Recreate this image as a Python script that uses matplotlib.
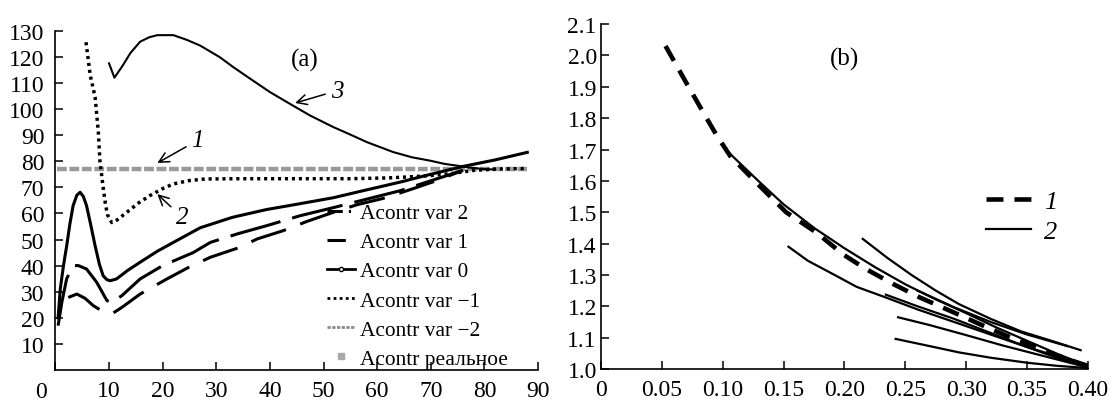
import matplotlib
matplotlib.use("Agg")
import matplotlib.pyplot as plt
from matplotlib.lines import Line2D

plt.rcParams['font.family'] = 'serif'
plt.rcParams['font.serif'] = ['Liberation Serif', 'DejaVu Serif']

# ---- panel (a): Acontr vs time ----
x_var2 = [2.4, 4.0, 5.5, 7.1, 8.8, 10.5, 12.4, 15.8, 20.8, 25.0, 28.9, 34.4, 37.6, 42.5, 47.0, 51.8, 56.2, 61.2, 66.0, 71.0, 76.0]
y_var2 = [27.8, 29.1, 27.5, 24.6, 22.5, 21.5, 24.0, 29.1, 34.9, 39.5, 43.2, 47.0, 50.2, 53.4, 57.0, 60.4, 63.3, 65.8, 69.0, 72.5, 76.5]

x_var1 = [0.5, 1.2, 2.1, 3.3, 4.3, 5.8, 7.7, 9.6, 10.5, 12.4, 15.8, 20.0, 25.7, 28.9, 34.0, 39.4, 45.6, 52.0, 58.1, 64.3, 70.0, 76.0]
y_var1 = [17.0, 26.0, 35.0, 40.0, 40.0, 38.7, 33.6, 26.6, 25.9, 28.5, 34.9, 40.0, 45.0, 48.9, 52.2, 55.3, 59.1, 62.3, 65.5, 68.7, 72.5, 76.5]

x_var0 = [0.5, 0.9, 1.5, 2.1, 2.7, 3.3, 4.0, 4.6, 5.2, 5.8, 6.6, 7.4, 8.2, 8.9, 9.6, 10.2, 11.4, 13.5, 15.8, 19.0, 22.0, 27.0, 33.0, 39.4, 45.0, 51.8, 58.0, 64.3, 70.0, 76.0, 82.0, 88.0]
y_var0 = [20.0, 31.0, 40.0, 47.6, 56.0, 63.0, 67.0, 68.1, 66.5, 63.0, 55.5, 47.6, 40.5, 36.1, 34.6, 34.2, 34.9, 38.2, 41.3, 45.5, 48.9, 54.5, 58.5, 61.5, 63.5, 66.0, 69.0, 72.0, 75.0, 78.0, 80.5, 83.4]

x_varm1 = [5.7, 6.5, 7.4, 8.0, 8.3, 8.9, 9.3, 9.7, 10.5, 11.5, 13.3, 15.5, 17.6, 20.0, 22.0, 25.0, 28.0, 35.0, 45.0, 55.0, 62.0, 66.0, 70.0, 74.0, 78.0, 82.0, 88.0]
y_varm1 = [125.6, 112.8, 104.6, 91.2, 80.0, 70.0, 64.0, 59.5, 56.5, 57.5, 60.4, 64.0, 66.8, 69.5, 71.3, 72.6, 73.2, 73.3, 73.3, 73.3, 73.6, 74.0, 74.5, 75.3, 76.5, 77.0, 77.2]

x_varm2 = [10.0, 11.0, 12.5, 14.0, 15.8, 17.5, 19.0, 22.0, 24.5, 27.0, 30.7, 33.2, 36.9, 40.0, 43.8, 47.5, 51.8, 55.0, 58.1, 63.0, 66.5, 69.9, 72.5, 74.9, 77.0, 80.0, 82.0]
y_varm2 = [117.5, 112.0, 116.5, 121.5, 125.8, 127.5, 128.3, 128.3, 126.5, 124.3, 119.8, 116.0, 110.8, 106.5, 101.9, 97.5, 93.1, 90.2, 87.3, 83.5, 81.5, 80.2, 79.0, 78.3, 77.6, 77.0, 76.8]

x_real = [0.3, 88.0]
y_real = [77.0, 77.0]

legend_a = ['Acontr var 2', 'Acontr var 1', 'Acontr var 0',
            'Acontr var \u22121', 'Acontr var \u22122', 'Acontr реальное']

# ---- panel (b) ----
x_b1 = [0.053, 0.07, 0.084, 0.095, 0.106, 0.13, 0.152, 0.177, 0.199, 0.218, 0.24, 0.262, 0.29, 0.31, 0.333, 0.36, 0.38, 0.40]
y_b1 = [2.03, 1.913, 1.818, 1.745, 1.68, 1.585, 1.50, 1.435, 1.365, 1.318, 1.271, 1.228, 1.18, 1.145, 1.106, 1.065, 1.035, 1.01]

b2_curves = [
    ([0.105, 0.13, 0.15, 0.175, 0.2, 0.225, 0.25, 0.275, 0.3, 0.325, 0.35, 0.375, 0.40],
     [1.69, 1.597, 1.525, 1.45, 1.385, 1.325, 1.27, 1.222, 1.178, 1.132, 1.09, 1.048, 1.01]),
    ([0.154, 0.17, 0.188, 0.21, 0.234, 0.26, 0.29, 0.32, 0.35, 0.375, 0.40],
     [1.39, 1.345, 1.308, 1.262, 1.228, 1.19, 1.15, 1.11, 1.07, 1.04, 1.01]),
    ([0.215, 0.235, 0.255, 0.275, 0.294, 0.32, 0.345, 0.37, 0.394],
     [1.415, 1.355, 1.30, 1.25, 1.207, 1.16, 1.12, 1.09, 1.06]),
    ([0.234, 0.26, 0.29, 0.32, 0.35, 0.375, 0.40],
     [1.237, 1.20, 1.16, 1.115, 1.07, 1.035, 1.005]),
    ([0.244, 0.27, 0.30, 0.33, 0.36, 0.38, 0.40],
     [1.165, 1.14, 1.108, 1.075, 1.045, 1.025, 1.005]),
    ([0.242, 0.27, 0.294, 0.32, 0.35, 0.375, 0.40],
     [1.096, 1.073, 1.053, 1.036, 1.02, 1.01, 1.003]),
    ([0.26, 0.29, 0.32, 0.35, 0.383],
     [1.25, 1.197, 1.15, 1.11, 1.073]),
]

fig = plt.figure(figsize=(11.13, 4.02), dpi=100)
ax1 = fig.add_axes([0.0498, 0.0771, 0.4336, 0.844])
ax2 = fig.add_axes([0.540, 0.0796, 0.4375, 0.858])

# panel (a)
ax1.plot(x_real, y_real, color='#9a9a9a', lw=3.2, dashes=(2.2, 0.6))
ax1.plot(x_varm2, y_varm2, color='black', lw=1.5)
ax1.plot(x_varm1, y_varm1, color='black', lw=2.5, dashes=(0.9, 1.1))
ax1.plot(x_var0, y_var0, color='black', lw=2.2)
ax1.plot(x_var1, y_var1, color='black', lw=2.2, dashes=(17, 4))
ax1.plot(x_var2, y_var2, color='black', lw=2.2, dashes=(12, 5))

ax1.set_xlim(0, 90)
ax1.set_ylim(0, 130)
ax1.set_xticks(range(0, 91, 10))
ax1.set_xticklabels([''] + [str(v) for v in range(10, 91, 10)])
ax1.set_yticks(range(10, 131, 10))
ax1.text(-2.7, -0.032, '0', transform=ax1.get_xaxis_transform(),
         ha='center', va='top', fontsize=17)

ax1.text(46.5, 119, '(a)', fontsize=18, ha='center', va='center')
arrow = dict(arrowstyle='->', color='black', lw=1.1, shrinkA=2, shrinkB=0)
ax1.annotate('1', xy=(19, 79.3), xytext=(26.5, 88), fontsize=18, style='italic',
             ha='center', va='center', arrowprops=arrow)
ax1.annotate('3', xy=(44.7, 102.3), xytext=(52.5, 107), fontsize=18, style='italic',
             ha='center', va='center', arrowprops=arrow)
ax1.annotate('2', xy=(19, 67.4), xytext=(23.6, 58.6), fontsize=18, style='italic',
             ha='center', va='center', arrowprops=arrow)

handles_a = [
    Line2D([], [], color='black', lw=2.2, dashes=(5, 2, 0.7, 2)),
    Line2D([], [], color='black', lw=2.2, dashes=(6, 20)),
    Line2D([], [], color='black', lw=2.0, marker='o', markersize=3,
           markerfacecolor='white', markevery=[1]),
    Line2D([], [], color='black', lw=2.0, dashes=(1.0, 1.2)),
    Line2D([], [], color='#8c8c8c', lw=2.0, dashes=(1.2, 0.5)),
    Line2D([], [], color='#a8a8a8', lw=0, marker='s', markersize=4),
]
ax1.legend(handles_a, legend_a, loc='upper left', bbox_to_anchor=(0.563, 0.492),
           frameon=False, fontsize=15.4, handlelength=1.3, handletextpad=0.25,
           labelspacing=0.43, borderpad=0, borderaxespad=0)

# panel (b)
ax2.plot(x_b1, y_b1, color='black', lw=3.3, dashes=(3.7, 2.4), label='1')
for i, (xs, ys) in enumerate(b2_curves):
    ax2.plot(xs, ys, color='black', lw=1.6, label='2' if i == 0 else None)

ax2.set_xlim(0, 0.4)
ax2.set_ylim(1.0, 2.1)
ax2.set_xticks([0, 0.05, 0.10, 0.15, 0.20, 0.25, 0.30, 0.35, 0.40])
ax2.set_xticklabels(['0', '0.05', '0.10', '0.15', '0.20', '0.25', '0.30', '0.35', '0.40'])
ax2.set_yticks([1.0 + 0.1 * i for i in range(12)])
ax2.set_yticklabels(['%.1f' % (1.0 + 0.1 * i) for i in range(12)])
ax2.text(0.2, 1.99, '(b)', fontsize=18, ha='center', va='center')

leg_b = ax2.legend(loc='upper left', bbox_to_anchor=(0.79, 0.52), frameon=False,
                   fontsize=19, handlelength=1.7, handletextpad=0.5,
                   labelspacing=0.25, borderpad=0, borderaxespad=0)
for t in leg_b.get_texts():
    t.set_style('italic')

for ax in (ax1, ax2):
    ax.spines['top'].set_visible(False)
    ax.spines['right'].set_visible(False)
    ax.spines['left'].set_linewidth(1.2)
    ax.spines['bottom'].set_linewidth(1.2)
    ax.tick_params(direction='in', length=6, width=1.1, labelsize=17)
ax1.tick_params(axis='y', pad=8)
ax1.tick_params(axis='x', pad=7)
ax2.tick_params(axis='y', pad=3)
ax2.tick_params(axis='x', pad=7)

fig.savefig('out.png', dpi=100)
